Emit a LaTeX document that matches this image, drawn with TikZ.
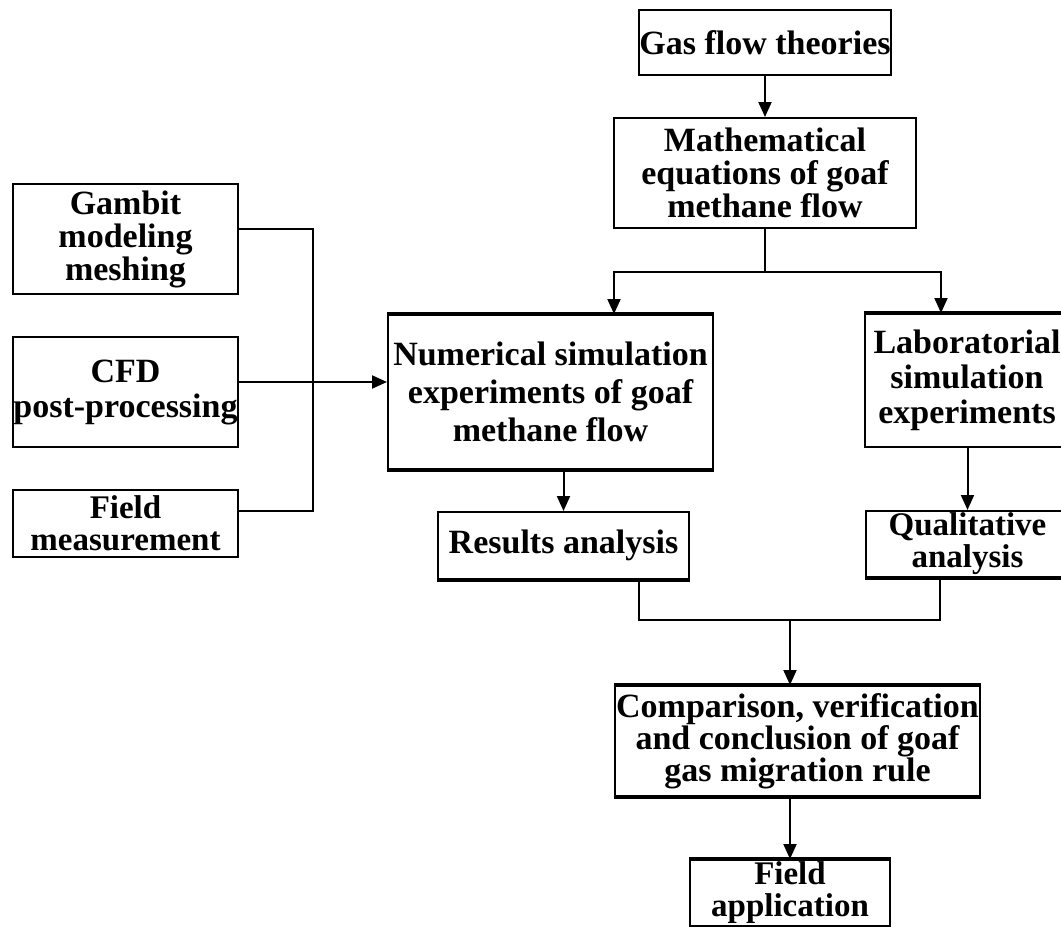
\documentclass[tikz,border=0pt]{standalone}
\usepackage{fontspec}
\setmainfont{Liberation Serif}
\usetikzlibrary{arrows.meta}
\begin{document}
\begin{tikzpicture}[x=0.5pt,y=-0.5pt,
  box/.style={draw, line width=1pt, inner sep=0pt, align=center},
  ls/.style={font=\fontsize{17}{#1}\selectfont\bfseries},
  lt/.style={font=\fontsize{16.5}{#1}\selectfont\bfseries},
  arr/.style={-{Triangle[length=7.5pt,width=6.5pt]}, line width=1pt},
  ln/.style={line width=1pt},
  thk/.style={line width=2.2pt}]
\useasboundingbox (0,0) rectangle (1061,927);

\node[box, ls=19, minimum width=126pt, minimum height=32.5pt] (gas) at (765,42.5) {Gas flow theories};
\node[box, ls=16.5, minimum width=151pt, minimum height=55pt] (math) at (765,173) {Mathematical\\equations of goaf\\methane flow};
\node[box, ls=16.5, minimum width=112.5pt, minimum height=55pt] (gam) at (125.5,239) {Gambit\\modeling\\meshing};
\node[box, ls=17.5, minimum width=112.5pt, minimum height=55pt] (cfd) at (125.5,392) {CFD\\post-processing};
\node[box, lt=16, minimum width=112.5pt, minimum height=33.5pt] (fm) at (125.5,523.5) {Field\\measurement};
\node[box, ls=19, minimum width=162.5pt, minimum height=77pt] (num) at (550.5,392) {Numerical simulation\\experiments of goaf\\methane flow};
\node[box, ls=17.5, minimum width=102pt, minimum height=66.5pt] (lab) at (967,380.5) {Laboratorial\\simulation\\experiments};
\node[box, ls=19, minimum width=125.5pt, minimum height=33.5pt] (res) at (563.5,545.5) {Results analysis};
\node[box, lt=16, minimum width=101.5pt, minimum height=33pt] (qual) at (967.5,544) {Qualitative\\analysis};
\node[box, ls=16, minimum width=182.5pt, minimum height=55pt] (comp) at (797.5,741) {Comparison, verification\\and conclusion of goaf\\gas migration rule};
\node[box, lt=16, minimum width=100pt, minimum height=33pt] (fa) at (790,893) {Field\\application};

% thick edges
\draw[thk] (num.north west) -- (num.north east);
\draw[thk] (num.south west) -- (num.south east);
\draw[thk] (lab.north west) -- (lab.north east);
\draw[thk] (res.south west) -- (res.south east);
\draw[thk] (qual.south west) -- (qual.south east);
\draw[thk] (comp.north west) -- (comp.north east);
\draw[thk] (comp.south west) -- (comp.south east);
\draw[thk] (fa.north west) -- (fa.north east);

% top chain
\draw[arr] (gas) -- (math);
\coordinate (br) at (765,272);
\coordinate (bl) at (614,272);
\coordinate (brr) at (941,272);
\draw[ln] (math.south) -- (br);
\draw[arr] (br) -- (bl) -- (bl |- num.north);
\draw[arr] (br) -- (brr) -- (brr |- lab.north);

% left inputs
\coordinate (b1) at (313,229);
\coordinate (b3) at (313,511);
\coordinate (cy) at (313,382);
\draw[ln] (b1 -| gam.east) -- (b1) -- (b3) -- (b3 -| fm.east);
\draw[arr] (cy -| cfd.east) -- (cy -| num.west);

% middle
\draw[arr] (num.south -| res.north) -- (res.north);
\draw[arr] (lab.south -| qual.north) -- (qual.north);

% join
\coordinate (j1) at (639,620);
\coordinate (j2) at (940,620);
\coordinate (jm) at (790,620);
\draw[ln] (j1 |- res.south) -- (j1) -- (j2) -- (j2 |- qual.south);
\draw[arr] (jm) -- (jm |- comp.north);
\draw[arr] (comp.south -| fa.north) -- (fa.north);
\end{tikzpicture}
\end{document}
